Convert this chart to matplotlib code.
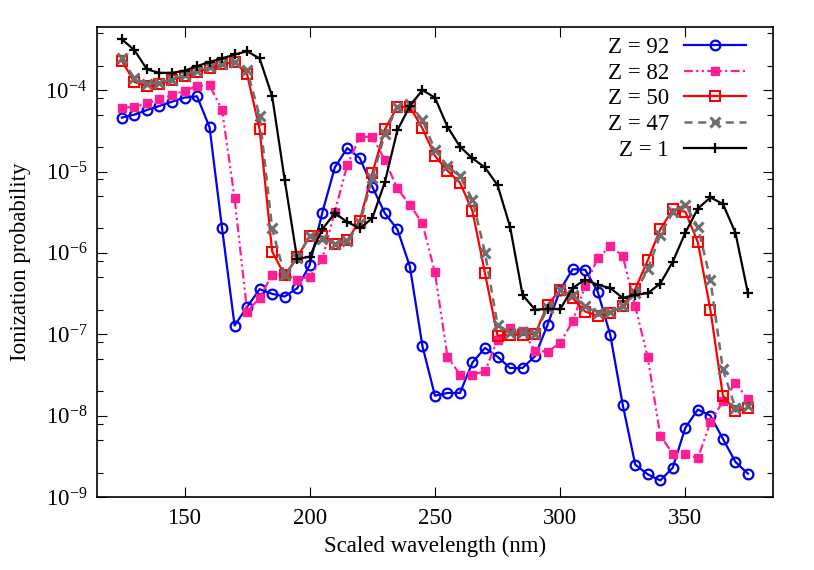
import numpy as np
import matplotlib
matplotlib.use('Agg')
import matplotlib.pyplot as plt
from matplotlib.ticker import FixedLocator, FuncFormatter, NullFormatter

plt.rcParams['font.family'] = 'serif'
plt.rcParams['font.serif'] = ['Liberation Serif', 'DejaVu Serif']
plt.rcParams['font.size'] = 16.5

wavelength = np.arange(125, 380, 5)

z92 = [4.6e-5, 5.0e-5, 5.7e-5, 6.4e-5, 7.2e-5, 8.1e-5, 8.4e-5, 3.5e-5, 2.0e-6, 1.28e-7,
       2.17e-7, 3.58e-7, 3.14e-7, 2.91e-7, 3.68e-7, 7.1e-7, 3.1e-6, 1.12e-5, 1.94e-5, 1.46e-5,
       6.5e-6, 3.07e-6, 1.95e-6, 6.8e-7, 7.2e-8, 1.76e-8, 1.9e-8, 1.9e-8, 4.5e-8, 6.8e-8,
       5.3e-8, 3.85e-8, 3.85e-8, 5.4e-8, 1.31e-7, 3.5e-7, 6.3e-7, 6.2e-7, 3.35e-7, 9.9e-8,
       1.36e-8, 2.5e-9, 1.9e-9, 1.6e-9, 2.3e-9, 7.1e-9, 1.19e-8, 1.0e-8, 5.2e-9, 2.7e-9,
       1.94e-9]
z82 = [6.1e-5, 6.2e-5, 6.9e-5, 7.7e-5, 8.7e-5, 9.8e-5, 1.12e-4, 1.15e-4, 5.7e-5, 4.7e-6,
       1.9e-7, 2.8e-7, 5.4e-7, 5.4e-7, 4.7e-7, 5.1e-7, 8.4e-7, 3.2e-6, 1.2e-5, 2.67e-5,
       2.67e-5, 1.38e-5, 6.2e-6, 3.9e-6, 2.3e-6, 5.75e-7, 5.3e-8, 3.2e-8, 3.2e-8, 3.5e-8,
       8.6e-8, 1.19e-7, 1.09e-7, 6.3e-8, 6.1e-8, 7.8e-8, 1.44e-7, 3.9e-7, 8.6e-7, 1.2e-6,
       9.2e-7, 2.2e-7, 5.2e-8, 5.7e-9, 3.4e-9, 3.4e-9, 3.0e-9, 8.3e-9, 1.5e-8, 2.5e-8,
       1.6e-8]
z50 = [2.29e-4, 1.26e-4, 1.12e-4, 1.19e-4, 1.33e-4, 1.49e-4, 1.68e-4, 1.85e-4, 2.08e-4, 2.22e-4,
       1.56e-4, 3.3e-5, 1.04e-6, 5.3e-7, 8.8e-7, 1.62e-6, 1.59e-6, 1.27e-6, 1.42e-6, 2.5e-6,
       9.5e-6, 3.3e-5, 6.25e-5, 6.25e-5, 3.39e-5, 1.56e-5, 1.02e-5, 7.3e-6, 3.27e-6, 5.6e-7,
       9.6e-8, 9.9e-8, 9.9e-8, 1.01e-7, 2.3e-7, 3.5e-7, 2.78e-7, 1.9e-7, 1.69e-7, 1.84e-7,
       2.2e-7, 3.6e-7, 8.1e-7, 1.95e-6, 3.43e-6, 3.2e-6, 1.35e-6, 2.0e-7, 1.76e-8, 1.13e-8,
       1.24e-8]
z47 = [2.45e-4, 1.39e-4, 1.19e-4, 1.23e-4, 1.35e-4, 1.53e-4, 1.73e-4, 1.9e-4, 2.1e-4, 2.22e-4,
       1.76e-4, 4.8e-5, 2.0e-6, 5.3e-7, 8.6e-7, 1.6e-6, 1.5e-6, 1.3e-6, 1.4e-6, 2.3e-6,
       8.3e-6, 2.9e-5, 6.25e-5, 6.7e-5, 4.3e-5, 1.84e-5, 1.17e-5, 8.7e-6, 4.5e-6, 1.01e-6,
       1.31e-7, 1.05e-7, 1.07e-7, 1.0e-7, 2.1e-7, 3.5e-7, 3.0e-7, 2.2e-7, 1.84e-7, 1.87e-7,
       2.2e-7, 3.2e-7, 6.3e-7, 1.66e-6, 3.2e-6, 3.9e-6, 2.1e-6, 4.7e-7, 3.7e-8, 1.24e-8,
       1.3e-8]
z1 = [4.2e-4, 3.1e-4, 1.8e-4, 1.63e-4, 1.63e-4, 1.73e-4, 1.97e-4, 2.22e-4, 2.45e-4, 2.74e-4,
      3.0e-4, 2.45e-4, 8.4e-5, 7.9e-6, 8.4e-7, 9.0e-7, 1.95e-6, 3.07e-6, 2.4e-6, 2.0e-6,
      2.67e-6, 7.4e-6, 3.2e-5, 6.4e-5, 1.0e-4, 8.1e-5, 3.55e-5, 2.02e-5, 1.45e-5, 1.12e-5,
      6.8e-6, 2.1e-6, 3.05e-7, 2.0e-7, 2.07e-7, 2.03e-7, 3.7e-7, 4.7e-7, 4.05e-7, 3.7e-7,
      2.8e-7, 3.05e-7, 3.2e-7, 4.2e-7, 7.8e-7, 1.77e-6, 3.5e-6, 4.8e-6, 4.0e-6, 1.77e-6,
      3.2e-7]

x_ticks = [150, 200, 250, 300, 350]
y_exponents = [-9, -8, -7, -6, -5, -4]

fig = plt.figure(figsize=(8.14, 5.70), dpi=100)
ax = fig.add_axes([0.119, 0.128, 0.8306, 0.825])

ax.plot(wavelength, z92, color='#0000ee', lw=1.6, marker='o', ms=7, mfc='none', mew=1.6,
        label='Z = 92')
ax.plot(wavelength, z82, color='#ff1e96', lw=1.6, ls=(0, (4, 1.5, 1, 1.5, 1, 1.5)),
        marker='s', ms=5.5, mec='#ff1e96', mfc='#ff1e96', label='Z = 82')
ax.plot(wavelength, z50, color='#ff0000', lw=1.6, marker='s', ms=7, mfc='none', mew=1.5,
        label='Z = 50')
ax.plot(wavelength, z47, color='#6e6e6e', lw=1.8, ls=(0, (3.2, 2.3)), marker='x', ms=6.5,
        mew=2.2, label='Z = 47')
ax.plot(wavelength, z1, color='black', lw=1.6, marker='+', ms=7, mew=1.6, label='Z = 1')

ax.set_yscale('log')
ax.set_xlim(115, 385)
ax.set_ylim(1e-9, 6e-4)

# gnuplot-style log ticks: majors per decade, minors at 2, 5, 8
majors = [10.0 ** e for e in y_exponents]
minors = [m * 10.0 ** e for e in y_exponents for m in (2, 5, 8)]
ax.xaxis.set_major_locator(FixedLocator(x_ticks))
ax.yaxis.set_major_locator(FixedLocator(majors))
ax.yaxis.set_minor_locator(FixedLocator([m for m in minors if m < 6e-4]))
ax.yaxis.set_minor_formatter(NullFormatter())
ax.yaxis.set_major_formatter(FuncFormatter(
    lambda v, p: r'$\mathregular{10^{%d}}$' % int(round(np.log10(v)))))

ax.tick_params(which='both', direction='in', top=True, right=True, width=0.8)
ax.tick_params(which='major', length=7)
ax.tick_params(which='minor', length=4)
ax.tick_params(axis='x', pad=8)
ax.tick_params(axis='y', pad=7)
for s in ax.spines.values():
    s.set_linewidth(1.2)

ax.set_xlabel('Scaled wavelength (nm)', labelpad=5)
ax.set_ylabel('Ionization probability', labelpad=10)

ax.legend(loc='upper right', bbox_to_anchor=(0.9596, 0.978), frameon=False,
          markerfirst=False, numpoints=1, handlelength=2.7, handletextpad=0.65,
          labelspacing=0.2, borderpad=0, borderaxespad=0)

fig.savefig('out.png', dpi=100)
